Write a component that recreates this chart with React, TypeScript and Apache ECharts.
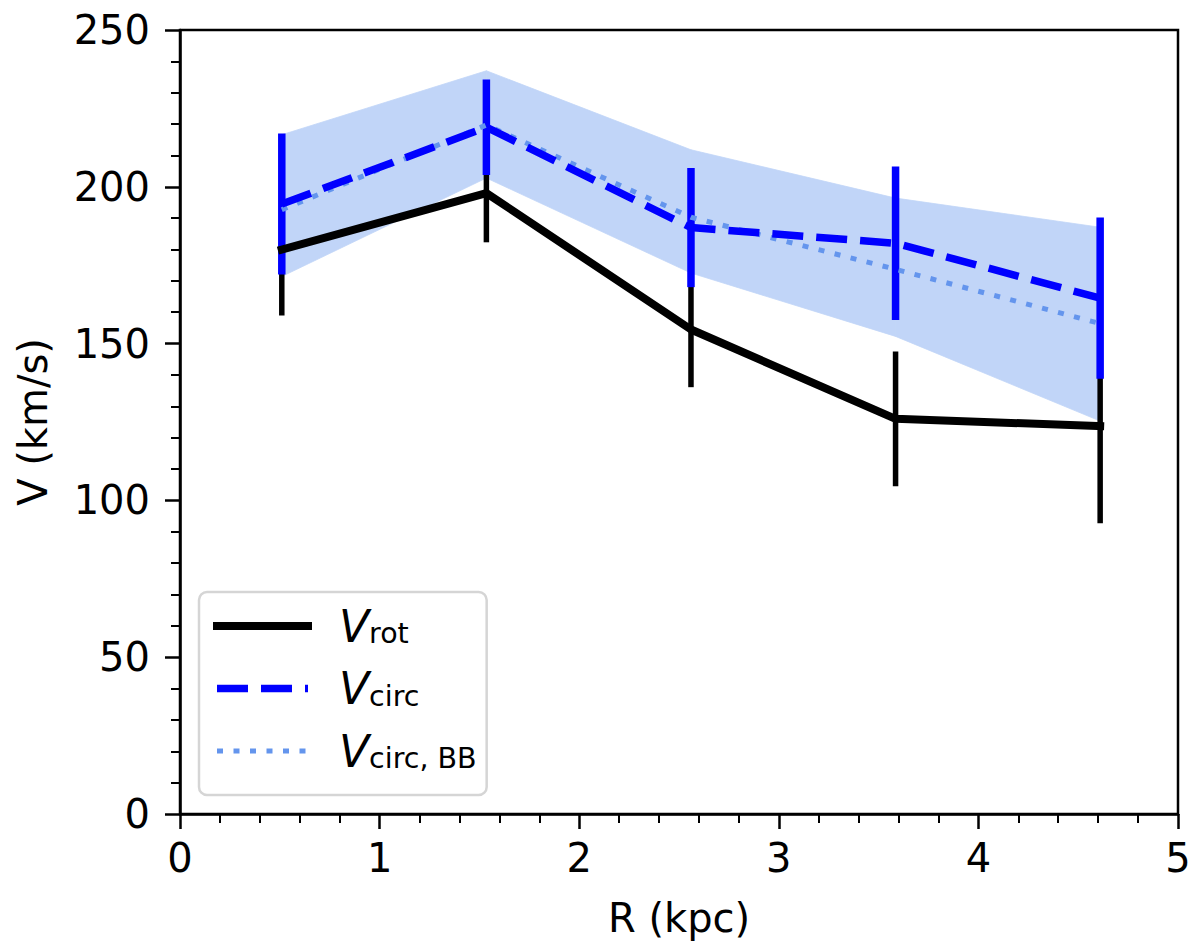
import { useEffect, useRef } from 'react'
import * as echarts from 'echarts'

// radii of the rings (kpc)
const radius = [0.51, 1.535, 2.56, 3.585, 4.61]
// rotation velocity and its error (km/s)
const vRot = [180, 198, 154.5, 126, 123.7]
const vRotErr = [21, 15.7, 18.4, 21.5, 31]
// circular velocity and its error
const vCirc = [194.5, 219, 187, 182, 164.5]
const vCircErr = [22.5, 15.2, 19, 24.5, 25.7]
// circular velocity from BB
const vCircBB = [192.7, 219.7, 190.3, 173.7, 156.4]
// shaded range of the BB model
const bandLow = [171.4, 202.8, 172.5, 152.3, 125.3]
const bandHigh = [216.6, 237, 211.8, 196.4, 187.1]

const FONT = 'DejaVu Sans'

const legendLabels: Record<string, string> = {
  Vrot: '{v|V}{s|rot}',
  Vcirc: '{v|V}{s|circ}',
  VcircBB: '{v|V}{s|circ, BB}'
}

function errorBars(name: string, vals: number[], errs: number[], color: string, width: number, z: number) {
  return {
    type: 'custom',
    name,
    z,
    silent: true,
    data: radius.map((r, i) => [r, vals[i] - errs[i], vals[i] + errs[i]]),
    encode: { x: 0, y: [1, 2] },
    renderItem: (_params: any, api: any) => {
      const lo = api.coord([api.value(0), api.value(1)])
      const hi = api.coord([api.value(0), api.value(2)])
      return {
        type: 'line',
        shape: { x1: lo[0], y1: lo[1], x2: hi[0], y2: hi[1] },
        style: { stroke: color, lineWidth: width }
      }
    }
  }
}

// one quadrilateral per pair of neighbouring rings
const bandData = radius.slice(0, -1).map((r, i) => [
  r,
  bandLow[i],
  bandHigh[i],
  radius[i + 1],
  bandLow[i + 1],
  bandHigh[i + 1]
])

function App() {
  const chartRef = useRef<HTMLDivElement>(null)

  useEffect(() => {
    const chart = echarts.init(chartRef.current, null, { renderer: 'svg' })

    const axisCommon = {
      axisLine: { onZero: false, lineStyle: { color: '#000', width: 2.5 } },
      axisTick: { length: 15, lineStyle: { color: '#000', width: 2.5 } },
      minorTick: { show: true, splitNumber: 5, length: 9, lineStyle: { color: '#000', width: 2 } },
      splitLine: { show: false },
      nameTextStyle: { fontSize: 40, color: '#000', fontFamily: FONT }
    }

    chart.setOption({
      animation: false,
      textStyle: { fontFamily: FONT },
      grid: {
        left: 180,
        right: 22,
        top: 30,
        bottom: 134,
        show: true,
        borderColor: '#000',
        borderWidth: 2.5
      },
      xAxis: {
        type: 'value',
        min: 0,
        max: 5,
        interval: 1,
        name: 'R (kpc)',
        nameLocation: 'middle',
        nameGap: 84,
        axisLabel: { fontSize: 40, color: '#000', margin: 24, fontFamily: FONT },
        ...axisCommon
      },
      yAxis: {
        type: 'value',
        min: 0,
        max: 250,
        interval: 50,
        name: 'V (km/s)',
        nameLocation: 'middle',
        nameGap: 127,
        axisLabel: { fontSize: 40, color: '#000', margin: 30, fontFamily: FONT },
        ...axisCommon
      },
      legend: {
        data: ['Vrot', 'Vcirc', 'VcircBB'],
        orient: 'vertical',
        left: 199,
        top: 592,
        padding: [12, 10, 22, 14],
        itemWidth: 91,
        itemHeight: 44,
        itemGap: 18.5,
        backgroundColor: 'rgba(255,255,255,0.8)',
        borderColor: '#d5d5d5',
        borderWidth: 2.5,
        borderRadius: 8,
        selectedMode: false,
        lineStyle: { width: 'inherit' },
        itemStyle: { opacity: 0 },
        formatter: (name: string) => legendLabels[name],
        textStyle: {
          color: '#000',
          rich: {
            v: {
              fontSize: 44,
              fontStyle: 'italic',
              fontFamily: FONT,
              lineHeight: 44,
              color: '#000',
              padding: [0, 0, 0, 26]
            },
            s: { fontSize: 28.5, fontFamily: FONT, lineHeight: 20, verticalAlign: 'bottom', color: '#000' }
          }
        }
      },
      series: [
        {
          name: 'band',
          type: 'custom',
          z: 1,
          silent: true,
          data: bandData,
          encode: { x: [0, 3], y: [1, 2, 4, 5] },
          renderItem: (_params: any, api: any) => {
            const a = api.coord([api.value(0), api.value(1)])
            const b = api.coord([api.value(3), api.value(4)])
            const c = api.coord([api.value(3), api.value(5)])
            const d = api.coord([api.value(0), api.value(2)])
            return {
              type: 'polygon',
              shape: { points: [a, b, c, d] },
              style: { fill: 'rgb(193,213,248)', stroke: 'rgb(193,213,248)', lineWidth: 0.8 }
            }
          }
        },
        errorBars('errRot', vRot, vRotErr, '#000', 5.5, 2),
        errorBars('errCirc', vCirc, vCircErr, '#0000ff', 7.5, 3),
        {
          name: 'VcircBB',
          type: 'line',
          z: 4,
          symbol: 'none',
          color: '#6495ed',
          lineStyle: { color: '#6495ed', width: 5, type: [6, 10.5] },
          data: radius.map((r, i) => [r, vCircBB[i]])
        },
        {
          name: 'Vrot',
          type: 'line',
          z: 5,
          symbol: 'none',
          color: '#000',
          lineStyle: { color: '#000', width: 8, cap: 'square' },
          data: radius.map((r, i) => [r, vRot[i]])
        },
        {
          name: 'Vcirc',
          type: 'line',
          z: 6,
          symbol: 'none',
          color: '#0000ff',
          lineStyle: { color: '#0000ff', width: 7.5, type: [31, 13] },
          data: radius.map((r, i) => [r, vCirc[i]])
        }
      ]
    })

    return () => {
      chart.dispose()
    }
  }, [])

  return (
    <div
      ref={chartRef}
      style={{ position: 'absolute', left: 0, top: 0, width: '1200px', height: '948px', background: '#fff' }}
    ></div>
  )
}

export default App
